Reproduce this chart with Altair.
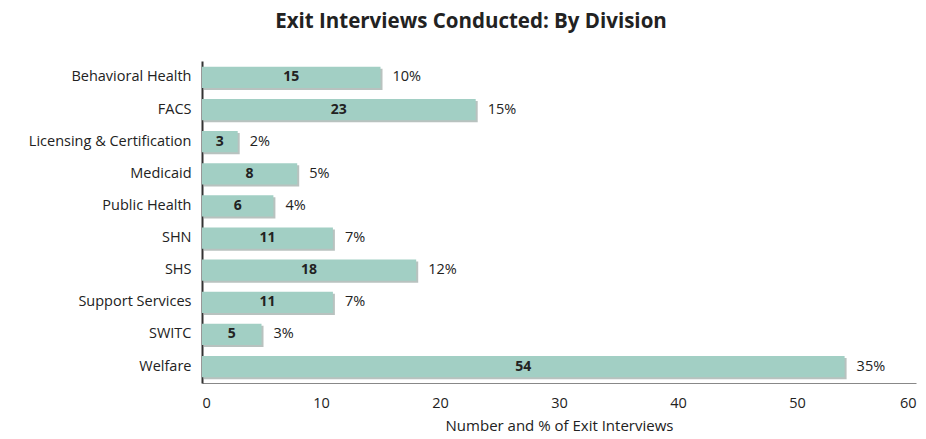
import altair as alt
import pandas as pd

divisions = ["Behavioral Health", "FACS", "Licensing & Certification", "Medicaid",
             "Public Health", "SHN", "SHS", "Support Services", "SWITC", "Welfare"]
counts = [15, 23, 3, 8, 6, 11, 18, 11, 5, 54]
percents = ["10%", "15%", "2%", "5%", "4%", "7%", "12%", "7%", "3%", "35%"]

df = pd.DataFrame({"division": divisions, "count": counts, "pct": percents})
df["mid"] = df["count"] / 2

FONT = "Open Sans"

y = alt.Y("division:N", sort=divisions, title=None,
          scale=alt.Scale(paddingInner=0.34, paddingOuter=0.18),
          axis=alt.Axis(labelFont=FONT, labelFontSize=14.5, labelColor="#222",
                        ticks=False, labelPadding=11, domainColor="#333",
                        domainWidth=2))

x_scale = alt.Scale(domain=[0, 60], nice=False)

shadow = alt.Chart(df).mark_bar(color="#9aa8a4", xOffset=2, yOffset=2, opacity=0.7).encode(
    x=alt.X("count:Q", scale=x_scale),
    y=alt.Y("division:N", sort=divisions),
)

bars = alt.Chart(df).mark_bar(color="#a2cfc4").encode(
    x=alt.X("count:Q", scale=x_scale, title="Number and % of Exit Interviews",
            axis=alt.Axis(values=[0, 10, 20, 30, 40, 50, 60], grid=False, ticks=False,
                          labelFont=FONT, labelFontSize=14.5, labelColor="#222",
                          labelPadding=13, titleFont=FONT, titleFontSize=15,
                          titleFontWeight="normal", titleColor="#222", titlePadding=9,
                          domainColor="#888")),
    y=y,
)

inner = alt.Chart(df).mark_text(font=FONT, fontSize=14, fontWeight="bold", color="#222").encode(
    x=alt.X("mid:Q", scale=x_scale),
    y=alt.Y("division:N", sort=divisions),
    text="count:Q",
)

outer = alt.Chart(df).mark_text(font=FONT, fontSize=14.5, color="#222", align="left", dx=12).encode(
    x=alt.X("count:Q", scale=x_scale),
    y=alt.Y("division:N", sort=divisions),
    text="pct:N",
)

chart = (shadow + bars + inner + outer).properties(
    width=714, height=322,
    autosize=alt.AutoSizeParams(type="none"),
    padding={"left": 202, "top": 61, "right": 10, "bottom": 56},
    title=alt.TitleParams("Exit Interviews Conducted: By Division", font=FONT, fontSize=20.5,
                          fontWeight="bold", color="#222", anchor="middle", dx=-88, offset=29),
).configure_view(stroke=None)

chart.save("out.html", embed_options={"renderer": "svg", "actions": False})
